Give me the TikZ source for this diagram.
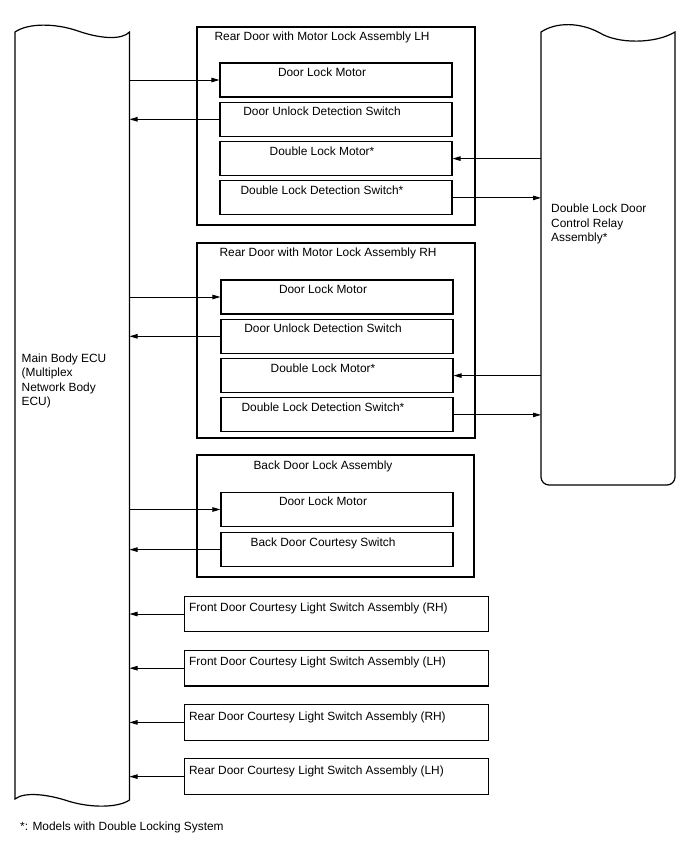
\documentclass[tikz,border=0pt]{standalone}
\usepackage{fontspec}
\setmainfont{Liberation Sans}
\usetikzlibrary{arrows.meta,positioning}
\tikzset{
  grp/.style={draw=black, line width=1.1pt, minimum width=278pt, inner sep=0pt},
  part/.style={draw=black, line width=1.1pt, minimum width=232pt, minimum height=34pt, inner sep=0pt},
  lamp/.style={draw=black, line width=1.1pt, minimum width=304pt, minimum height=35.5pt, inner sep=0pt},
  gtxt/.style={anchor=base west, inner sep=0pt, yshift=-14.5pt},
  ptxt/.style={anchor=base, inner sep=0pt, xshift=-14pt, yshift=-14pt},
  ctxt/.style={anchor=base west, inner sep=0pt, xshift=5pt, yshift=-16pt},
  note/.style={anchor=north west, inner sep=0pt, align=left},
  outline/.style={draw=black, line width=1.2pt},
  sig/.style={-{Triangle[length=8pt,width=4.5pt]}, line width=0.9pt, draw=black}
}
\begin{document}
\begin{tikzpicture}[x=1pt, y=-1pt, font=\fontsize{11.9}{14.5}\selectfont, node distance=4.2pt]
  \useasboundingbox (0,0) rectangle (688,852);

  % main body ECU
  \draw[outline] (15,32) .. controls (28,23) and (55,23) .. (78,31) .. controls (101,39) and (122,40) .. (129.5,32)
    -- (129.5,800) .. controls (118,808) and (90,808) .. (68,801) .. controls (50,795) and (25,791) .. (15,799) -- cycle;
  \coordinate (ecuR) at (129.5,0);
  \node[note] (ecu) at (21.5,353.5) {Main Body ECU\\(Multiplex\\Network Body\\ECU)};

  % double lock relay
  \draw[outline] (541,32) .. controls (556,22) and (580,22) .. (600,33) .. controls (618,44) and (655,44) .. (675,32)
    -- (675,477) arc[start angle=0, end angle=90, radius=8] -- (549,485) arc[start angle=90, end angle=180, radius=8] -- cycle;
  \coordinate (relL) at (541,0);
  \node[note] (rel) at (551,204) {Double Lock Door\\Control Relay\\Assembly*};

  % rear door LH
  \node[grp, minimum height=198pt, label={[gtxt, xshift=18pt]north west:Rear Door with Motor Lock Assembly LH}] (lh) at (336,126) {};
  \node[part, label={[ptxt]north:Door Lock Motor}] (lh1) at (336,80) {};
  \node[part, below=of lh1, label={[ptxt]north:Door Unlock Detection Switch}] (lh2) {};
  \node[part, below=of lh2, label={[ptxt]north:Double Lock Motor*}] (lh3) {};
  \node[part, below=of lh3, label={[ptxt]north:Double Lock Detection Switch*}] (lh4) {};

  % rear door RH
  \node[grp, minimum height=195pt, label={[gtxt, xshift=23pt]north west:Rear Door with Motor Lock Assembly RH}] (rh) at (336,340.5) {};
  \node[part, label={[ptxt]north:Door Lock Motor}] (rh1) at (337,297) {};
  \node[part, below=of rh1, label={[ptxt]north:Door Unlock Detection Switch}] (rh2) {};
  \node[part, below=of rh2, label={[ptxt]north:Double Lock Motor*}] (rh3) {};
  \node[part, below=of rh3, label={[ptxt]north:Double Lock Detection Switch*}] (rh4) {};

  % back door
  \node[grp, minimum width=277pt, minimum height=122pt, label={[anchor=base, inner sep=0pt, xshift=-12.5pt, yshift=-15.5pt]north:Back Door Lock Assembly}] (bk) at (335.5,516) {};
  \node[part, label={[ptxt]north:Door Lock Motor}] (bk1) at (337,509.5) {};
  \node[part, below=5pt of bk1, label={[ptxt]north:Back Door Courtesy Switch}] (bk2) {};

  % courtesy light switches
  \node[lamp, label={[ctxt]north west:Front Door Courtesy Light Switch Assembly (RH)}] (c1) at (336.5,614) {};
  \node[lamp, below=17.6pt of c1, label={[ctxt]north west:Front Door Courtesy Light Switch Assembly (LH)}] (c2) {};
  \node[lamp, below=17.6pt of c2, label={[ctxt]north west:Rear Door Courtesy Light Switch Assembly (RH)}] (c3) {};
  \node[lamp, below=17.6pt of c3, label={[ctxt]north west:Rear Door Courtesy Light Switch Assembly (LH)}] (c4) {};

  \node[note] (foot) at (20,822) {*: Models with Double Locking System};

  % signals
  \draw[sig] (ecuR |- lh1.west) -- (lh1.west);
  \draw[sig] (lh2.west) -- (ecuR |- lh2.west);
  \draw[sig] (relL |- lh3.east) -- (lh3.east);
  \draw[sig] (lh4.east) -- (relL |- lh4.east);
  \draw[sig] (ecuR |- rh1.west) -- (rh1.west);
  \draw[sig] (rh2.west) -- (ecuR |- rh2.west);
  \draw[sig] (relL |- rh3.east) -- (rh3.east);
  \draw[sig] (rh4.east) -- (relL |- rh4.east);
  \draw[sig] (ecuR |- bk1.west) -- (bk1.west);
  \draw[sig] (bk2.west) -- (ecuR |- bk2.west);
  \foreach \i in {1,...,4}
    \draw[sig] (c\i.west) -- (ecuR |- c\i.west);
\end{tikzpicture}
\end{document}
